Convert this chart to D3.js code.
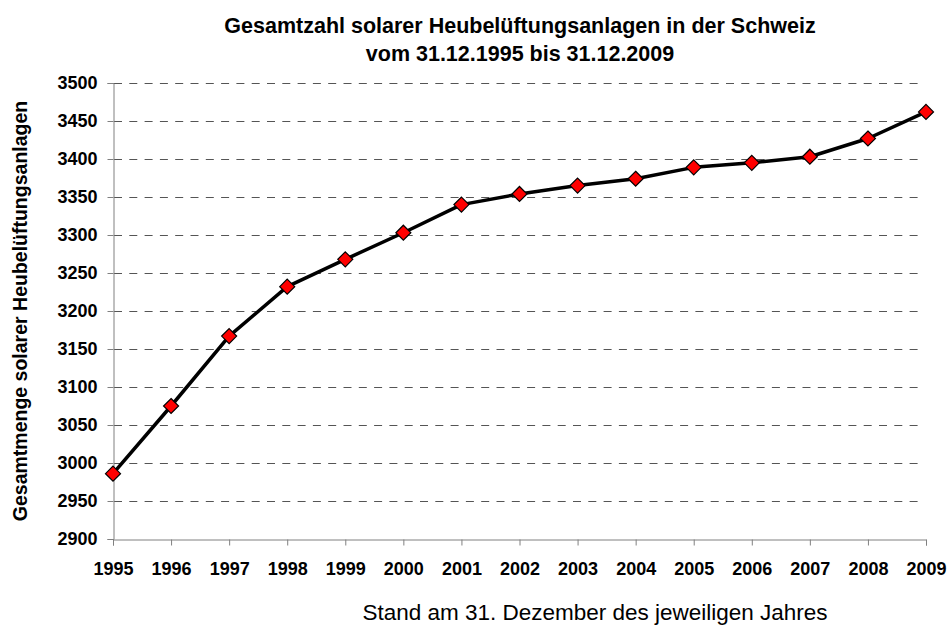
<!DOCTYPE html>
<html>
<head>
<meta charset="utf-8">
<script src="https://cdn.jsdelivr.net/npm/d3@7"></script>
<style>
  body { margin: 0; background: #fff; }
  text { font-family: Arial, "Liberation Sans", sans-serif; }
</style>
</head>
<body>
<div id="chart"></div>
<script>
// data
const years = [1995, 1996, 1997, 1998, 1999, 2000, 2001, 2002, 2003, 2004, 2005, 2006, 2007, 2008, 2009];
const totals = [2986, 3075, 3167, 3232, 3268, 3303, 3340, 3354, 3365, 3374, 3389, 3395, 3403, 3427, 3462];
const yTicks = [2900, 2950, 3000, 3050, 3100, 3150, 3200, 3250, 3300, 3350, 3400, 3450, 3500];

const titleLines = ["Gesamtzahl solarer Heubelüftungsanlagen in der Schweiz", "vom 31.12.1995 bis 31.12.2009"];
const yTitle = "Gesamtmenge solarer Heubelüftungsanlagen";
const xTitle = "Stand am 31. Dezember des jeweiligen Jahres";

const width = 950, height = 626;
const margin = { top: 83, right: 24, bottom: 87, left: 113 };

const svg = d3.select("#chart").append("svg")
    .attr("width", width)
    .attr("height", height);

const x = d3.scaleLinear()
    .domain([1995, 2009])
    .range([margin.left, width - margin.right]);

const y = d3.scaleLinear()
    .domain([2900, 3500])
    .range([height - margin.bottom, margin.top]);

// grid
svg.append("g")
  .selectAll("line")
  .data(yTicks.filter(d => d > 2900))
  .enter().append("line")
    .attr("x1", margin.left + 1)
    .attr("x2", width - margin.right - 5)
    .attr("y1", d => Math.round(y(d)) + 0.5)
    .attr("y2", d => Math.round(y(d)) + 0.5)
    .attr("stroke", "#555")
    .attr("stroke-width", 1)
    .attr("stroke-dasharray", "8,7.3");

// axes
const gY = svg.append("g")
    .attr("transform", `translate(${margin.left + 0.5},0)`)
    .call(d3.axisLeft(y).tickValues(yTicks).tickSize(6).tickPadding(10).tickFormat(d3.format("d")));

const gX = svg.append("g")
    .attr("transform", `translate(0,${Math.round(y(2900)) + 0.5})`)
    .call(d3.axisBottom(x).tickValues(years).tickSize(6).tickPadding(17).tickFormat(d3.format("d")));

[gY, gX].forEach(g => {
  g.select(".domain").attr("stroke", "#808080");
  g.selectAll(".tick line").attr("stroke", "#808080");
  g.selectAll("text")
    .attr("fill", "#000")
    .style("font-size", "18px")
    .style("font-weight", "bold")
    .style("font-family", "Arial, 'Liberation Sans', sans-serif");
});

// line
const line = d3.line()
    .x((d, i) => x(years[i]))
    .y(d => y(d));

svg.append("path")
    .datum(totals)
    .attr("fill", "none")
    .attr("stroke", "#000")
    .attr("stroke-width", 3.5)
    .attr("stroke-linejoin", "round")
    .attr("d", line);

// diamonds
svg.append("g")
  .selectAll("path")
  .data(totals)
  .enter().append("path")
    .attr("transform", (d, i) => `translate(${x(years[i])},${y(d)})`)
    .attr("d", "M0,-7.5L7.5,0L0,7.5L-7.5,0Z")
    .attr("fill", "#ff0000")
    .attr("stroke", "#000")
    .attr("stroke-width", 1.2);

// titles
svg.append("g")
  .selectAll("text")
  .data(titleLines)
  .enter().append("text")
    .attr("x", 520)
    .attr("y", (d, i) => 33 + i * 28)
    .attr("text-anchor", "middle")
    .style("font-size", "21.5px")
    .style("font-weight", "bold")
    .text(d => d);

svg.append("text")
    .attr("transform", `translate(27,${(margin.top + height - margin.bottom) / 2}) rotate(-90)`)
    .attr("text-anchor", "middle")
    .style("font-size", "19.5px")
    .style("font-weight", "bold")
    .text(yTitle);

svg.append("text")
    .attr("x", 595)
    .attr("y", 620)
    .attr("text-anchor", "middle")
    .style("font-size", "22.5px")
    .text(xTitle);
</script>
</body>
</html>
